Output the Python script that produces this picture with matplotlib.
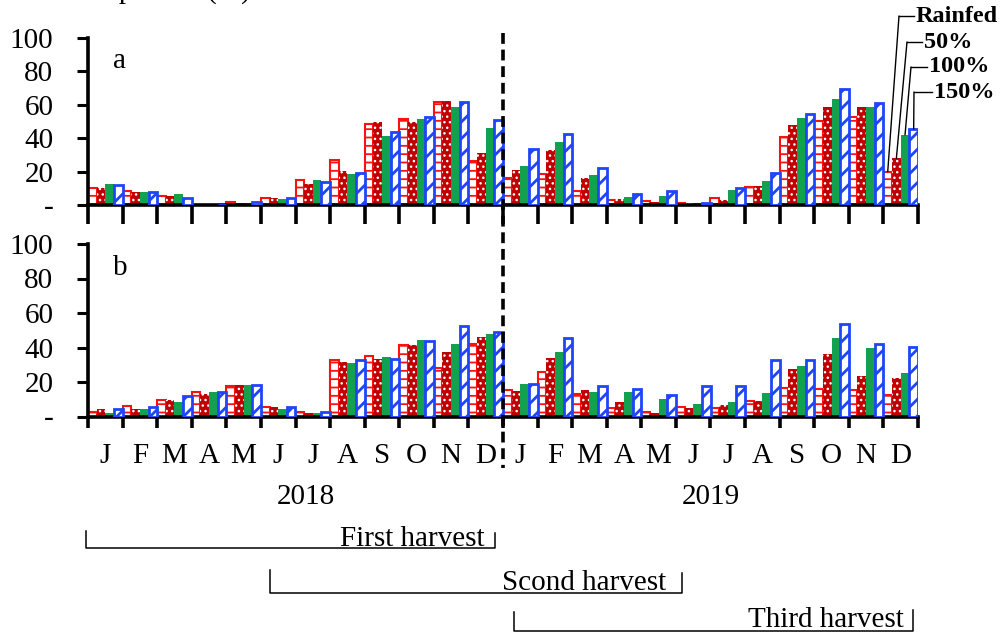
import matplotlib
matplotlib.use("Agg")
import matplotlib.pyplot as plt
from matplotlib.lines import Line2D
from matplotlib.transforms import blended_transform_factory
import numpy as np

plt.rcParams['font.family'] = ['Liberation Serif', 'DejaVu Serif']

months = ["J", "F", "M", "A", "M", "J", "J", "A", "S", "O", "N", "D"] * 2
years = ["2018", "2019"]
series = ["Rainfed", "50%", "100%", "150%"]

# Panel a
a_rainfed = [10, 8.4, 5.6, 0, 2, 4.4, 14.8, 26.8, 48.4, 51.4, 61.6, 26.4,
             16.4, 18.8, 8.4, 2.8, 2.4, 1.2, 4, 10.8, 40.8, 50.4, 52.4, 20]
a_50 = [10, 8, 5.6, 0, 1, 4, 12.8, 20.4, 50, 50, 62.4, 31.2,
        20.8, 33.2, 16.4, 3.6, 1.6, 0.8, 3.2, 11.6, 48, 58.4, 58.4, 28]
a_100 = [12.4, 7.6, 6.4, 0, 1, 3.4, 14.8, 18.8, 41.6, 51.6, 58.4, 46,
         23.2, 37.6, 18, 4.8, 5.6, 1.2, 8.8, 14.4, 52, 63.2, 58.4, 42]
a_150 = [12, 7.6, 4, 0, 1.5, 4, 14, 19.2, 43.6, 52.4, 61.6, 50.8,
         33.6, 42.4, 22, 6.4, 8.4, 1.2, 10.4, 19.2, 54.4, 69.2, 60.8, 45.6]

# Panel b
b_rainfed = [2.7, 6.2, 9.7, 14, 17.4, 5.4, 2.7, 32.6, 35.3, 41.5, 28.3, 42.2,
             15.1, 26, 13.2, 4.7, 2.7, 5.4, 4.7, 8.9, 16.3, 15.9, 15.1, 12.4]
b_50 = [4.3, 4.3, 9.7, 12.8, 18.2, 5.4, 2.3, 31.4, 33.3, 41.5, 37.2, 46.1,
        14.7, 33.7, 15.5, 8.5, 1.9, 4.7, 6.6, 8.9, 27.5, 36.4, 23.3, 22.5]
b_100 = [2.3, 4.3, 8.5, 14, 18.2, 4.3, 1.9, 31, 34.5, 44.2, 41.9, 47.7,
         19, 37.2, 14.3, 14, 10, 7.4, 8.5, 13.6, 29.5, 45.7, 39.9, 25.2]
b_150 = [4.3, 5.4, 12, 14, 18.2, 5.4, 2.7, 32.6, 33.3, 43.8, 52.7, 49.2,
         18.6, 45.7, 17.4, 15.9, 12.4, 17.8, 17.4, 32.6, 32.6, 53.5, 42.2, 40.3]

yticks = [0, 20, 40, 60, 80, 100]
ytick_labels = ["-", "20", "40", "60", "80", "100"]

W, H = 1002, 633
fig = plt.figure(figsize=(W / 100, H / 100), dpi=100)

RED = '#FF1010'
DRED = '#C00000'
GREEN = '#13A150'
BLUE = '#1F45FA'

axa = fig.add_axes([88 / W, (H - 205) / H, 830 / W, 167 / H])
axb = fig.add_axes([88 / W, (H - 416.5) / H, 830 / W, 172.5 / H])

n = len(months)
x = np.arange(n)
bw = 0.25

def draw_panel(ax, vals, label, show_months):
    r, d, g, b = vals
    with plt.rc_context({'hatch.linewidth': 1.3}):
        ax.bar(x + 0.125, r, bw, facecolor='white', edgecolor=RED, hatch='--', linewidth=1.5, zorder=2)
    with plt.rc_context({'hatch.linewidth': 1.0}):
        ax.bar(x + 0.375, d, bw, facecolor=DRED, edgecolor='white', hatch='...', linewidth=0, zorder=2)
    ax.bar(x + 0.625, g, bw, facecolor=GREEN, edgecolor='none', linewidth=0, zorder=2)
    with plt.rc_context({'hatch.linewidth': 2.0}):
        ax.bar(x + 0.875, b, bw, facecolor='white', edgecolor=BLUE, hatch='//', linewidth=2, zorder=3)
    ax.set_xlim(0, n)
    ax.set_ylim(0, 100)
    ax.set_yticks(yticks)
    ax.set_yticklabels(ytick_labels, fontsize=21)
    ax.tick_params(axis='y', direction='out', length=8, width=2.2, pad=17)
    ax.set_xticks(np.arange(0, n + 1))
    ax.set_xticklabels([])
    for s in ['top', 'right']:
        ax.spines[s].set_visible(False)
    for s in ['left', 'bottom']:
        ax.spines[s].set_linewidth(2.6)
    if show_months:
        ax.tick_params(axis='x', which='major', direction='out', length=8, width=2.6)
        ax.set_xticks(x + 0.5, minor=True)
        ax.set_xticklabels(months, minor=True, fontsize=21)
        ax.tick_params(axis='x', which='minor', length=0, pad=19)
    else:
        ax.tick_params(axis='x', which='major', direction='out', length=14, width=2.6)
    ax.text(0.03, 0.86, label, transform=ax.transAxes, fontsize=21, va='center', ha='left')

draw_panel(axa, (a_rainfed, a_50, a_100, a_150), 'a', False)
draw_panel(axb, (b_rainfed, b_50, b_100, b_150), 'b', True)

# year labels
tb = blended_transform_factory(axb.transData, fig.transFigure)
axb.text(6.3, (H - 497) / H, years[0], transform=tb, fontsize=21, ha='center', va='center')
axb.text(18, (H - 497) / H, years[1], transform=tb, fontsize=21, ha='center', va='center')

# dashed separator
ta = blended_transform_factory(axa.transData, fig.transFigure)
fig.add_artist(Line2D([12, 12], [(H - 33) / H, (H - 468) / H], transform=ta,
                      color='black', linewidth=2.6, linestyle=(0, (3, 1.6)), clip_on=False))

# harvest brackets (figure pixels, y measured from top)
def bracket(x0, x1, ytop0, ytop1, ybot, text, tx, tbase):
    xs = [x0 / W, x0 / W, x1 / W, x1 / W]
    ys = [(H - ytop0) / H, (H - ybot) / H, (H - ybot) / H, (H - ytop1) / H]
    fig.add_artist(Line2D(xs, ys, transform=fig.transFigure, color='black', linewidth=1.1))
    fig.text(tx / W, (H - tbase) / H, text, fontsize=21, ha='right', va='baseline')

bracket(86, 495, 531, 533, 548, "First harvest", 484, 546)
bracket(270, 682, 570, 573, 593, "Scond harvest", 666, 590)
bracket(514, 913, 612, 610, 631, "Third harvest", 904, 627)

# top (cropped) title
fig.text(85 / W, (H + 2) / H, "Depletion (%)", fontsize=21, ha='left', va='baseline')

# legend labels with leader lines to Dec 2019 bars in panel a
dec = n - 1
leg_vals = [a_rainfed[dec], a_50[dec], a_100[dec], a_150[dec]]
elbows = [(899, 16), (907, 42), (911, 67), (914, 92)]
text_x = [916, 924, 929, 934]
for k in range(4):
    ex, ey = elbows[k]
    axa.annotate('', xy=(dec + 0.125 + k * 0.25, leg_vals[k]), xycoords='data',
                 xytext=(ex, H - ey), textcoords='figure pixels',
                 arrowprops=dict(arrowstyle='-', lw=1.0, color='black', shrinkA=0, shrinkB=0),
                 annotation_clip=False)
    fig.add_artist(Line2D([ex / W, (text_x[k] - 2) / W], [(H - ey) / H] * 2,
                          transform=fig.transFigure, color='black', linewidth=1.0))
    fig.text(text_x[k] / W, (H - ey) / H, series[k], fontsize=17.5, fontweight='bold',
             ha='left', va='center')

fig.savefig('out.png', dpi=100)
